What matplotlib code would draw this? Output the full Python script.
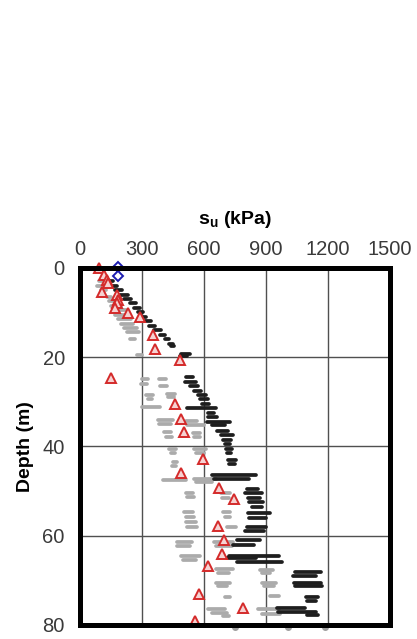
import matplotlib
matplotlib.use("Agg")
import matplotlib.pyplot as plt

plt.rcParams['font.family'] = ['Liberation Sans', 'DejaVu Sans']
plt.rcParams['mathtext.fontset'] = 'custom'
plt.rcParams['mathtext.bf'] = 'Liberation Sans:bold'
plt.rcParams['mathtext.rm'] = 'Liberation Sans'

# black profile: streaks (depth, su from, su to)
blk_depth = [3.0, 4.0, 5.0, 6.0, 7.0, 8.0, 9.0, 10.0, 11.0, 12.0, 13.0, 14.0, 15.0, 16.0, 17.0, 17.6,
             19.3, 19.8, 24.5, 25.5, 26.5, 27.5, 28.5, 29.5, 30.5, 31.5, 32.5, 33.5, 34.5, 35.3,
             36.5, 37.5, 38.5, 39.5, 40.5, 41.5, 43.0, 44.0, 46.5, 47.3, 49.5, 50.5, 51.5, 52.5,
             53.5, 55.0, 56.0, 58.0, 59.0, 61.0, 62.0, 64.5, 65.0, 65.8, 68.2, 69.0, 70.5, 71.3,
             73.8, 74.6, 76.3, 77.0, 77.8]
blk_lo = [135, 150, 170, 195, 215, 240, 260, 280, 295, 315, 335, 360, 385, 410, 430, 440,
          490, 485, 515, 510, 530, 550, 570, 580, 590, 520, 620, 620, 615, 640,
          665, 680, 690, 700, 705, 710, 715, 720, 640, 650, 810, 800, 815, 820,
          830, 815, 820, 810, 800, 760, 740, 720, 710, 760, 1040, 1030, 1035, 1040,
          1095, 1100, 955, 960, 1100]
blk_hi = [160, 180, 205, 230, 245, 270, 290, 305, 320, 345, 365, 390, 410, 430, 450, 455,
          530, 520, 545, 560, 570, 585, 610, 620, 625, 660, 650, 665, 725, 700,
          715, 740, 730, 725, 735, 730, 755, 750, 850, 820, 860, 880, 870, 885,
          880, 920, 900, 900, 890, 870, 840, 965, 850, 980, 1165, 1140, 1165, 1170,
          1150, 1140, 1090, 1140, 1150]

# grey profiles
gry_depth = [3.0, 4.0, 5.0, 6.5, 7.5, 8.5, 9.5, 10.5, 11.5, 12.5, 13.5, 14.3, 16.0, 19.5,
             25.0, 26.0, 28.5, 29.5, 31.3, 34.0, 35.0, 36.8, 38.0, 40.5, 41.5, 43.5, 44.5,
             47.5, 50.5, 51.3, 54.8, 55.8, 57.0, 58.0, 61.5, 62.3, 64.6, 65.4,
             25.0, 26.5, 28.3, 29.0, 34.3, 35.3, 37.0, 38.0, 40.5, 41.5, 47.3, 48.0,
             50.5, 51.5, 54.8, 55.8, 58.0, 61.5, 62.3, 67.5, 68.3, 70.5, 71.2, 73.8,
             76.5, 77.3, 78.0,
             67.6, 68.3, 70.5, 71.2, 73.6, 76.5, 77.5]
gry_lo = [90, 80, 100, 130, 140, 150, 165, 170, 185, 200, 215, 225, 240, 275,
          300, 295, 320, 330, 300, 375, 380, 405, 415, 430, 440, 450, 445,
          400, 515, 520, 505, 515, 515, 520, 470, 470, 490, 500,
          380, 385, 420, 425, 515, 520, 545, 550, 550, 560, 550, 560,
          680, 685, 690, 700, 710, 650, 660, 660, 670, 660, 670, 700,
          620, 640, 690,
          870, 880, 880, 890, 920, 860, 880]
gry_hi = [110, 105, 125, 150, 165, 200, 220, 230, 245, 255, 275, 285, 265, 300,
          330, 325, 355, 350, 385, 450, 440, 440, 445, 465, 460, 470, 465,
          515, 545, 550, 545, 550, 560, 565, 540, 530, 580, 560,
          415, 420, 460, 455, 565, 600, 580, 580, 610, 600, 660, 640,
          725, 720, 725, 725, 755, 740, 735, 740, 720, 725, 710, 725,
          700, 710, 720,
          935, 920, 950, 940, 965, 965, 970]

# points cut off by the bottom edge
edge_su = [750, 1007, 1186]
edge_depth = [80.4, 80.4, 80.4]

# red triangles
tri_su = [92, 118, 129, 137, 105, 178, 185, 178, 169, 231, 290, 355, 363, 484, 148, 460,
          489, 503, 597, 489, 674, 745, 669, 698, 689, 621, 577, 790, 556]
tri_depth = [0.0, 1.6, 2.8, 3.5, 5.5, 6.1, 7.2, 8.0, 9.0, 10.2, 11.0, 15.1, 18.2, 20.7, 24.7, 30.6,
             33.8, 36.7, 42.9, 45.9, 49.4, 51.9, 57.9, 61.0, 64.0, 66.9, 73.0, 76.3, 79.2]

# blue diamonds
dia_su = [182, 182]
dia_depth = [-0.2, 1.8]

fig = plt.figure(figsize=(4.17, 6.39), dpi=100)
ax = fig.add_axes([0.192, 0.022, 0.743, 0.559])

ax.hlines(gry_depth, gry_lo, gry_hi, colors='#ababab', lw=2.7, capstyle='round', zorder=2)
ax.hlines(blk_depth, blk_lo, blk_hi, colors='#1e1e1e', lw=2.7, capstyle='round', zorder=3)
ax.plot(edge_su, edge_depth, 'o', color='#a0a0a0', ms=4, clip_on=False, zorder=1)
ax.plot(tri_su, tri_depth, '^', ms=7, mfc='#f6d2d2', mec='#d42a2a', mew=1.4, ls='none',
        clip_on=False, zorder=4)
ax.plot(dia_su, dia_depth, 'D', ms=5.5, mfc='white', mec='#1c1cb0', mew=1.4, ls='none',
        clip_on=False, zorder=5)

ax.set_xlim(0, 1500)
ax.set_ylim(80, 0)
ax.set_xticks([0, 300, 600, 900, 1200, 1500])
ax.set_yticks([0, 20, 40, 60, 80])
ax.xaxis.tick_top()
ax.xaxis.set_label_position('top')
ax.tick_params(length=0, labelsize=14.5, labelcolor='#3a3a3a')
ax.tick_params(axis='x', pad=6)
ax.tick_params(axis='y', pad=11)
ax.grid(True, color='#505050', lw=1.0, zorder=0)
ax.set_axisbelow(True)
for s in ax.spines.values():
    s.set_linewidth(3.6)
    s.set_zorder(6)

ax.set_xlabel(r'$\mathbf{s_u}$ (kPa)', fontsize=14, fontweight='bold', labelpad=12)
ax.set_ylabel('Depth (m)', fontsize=14, fontweight='bold', labelpad=6)

fig.savefig('out.png', dpi=100)
